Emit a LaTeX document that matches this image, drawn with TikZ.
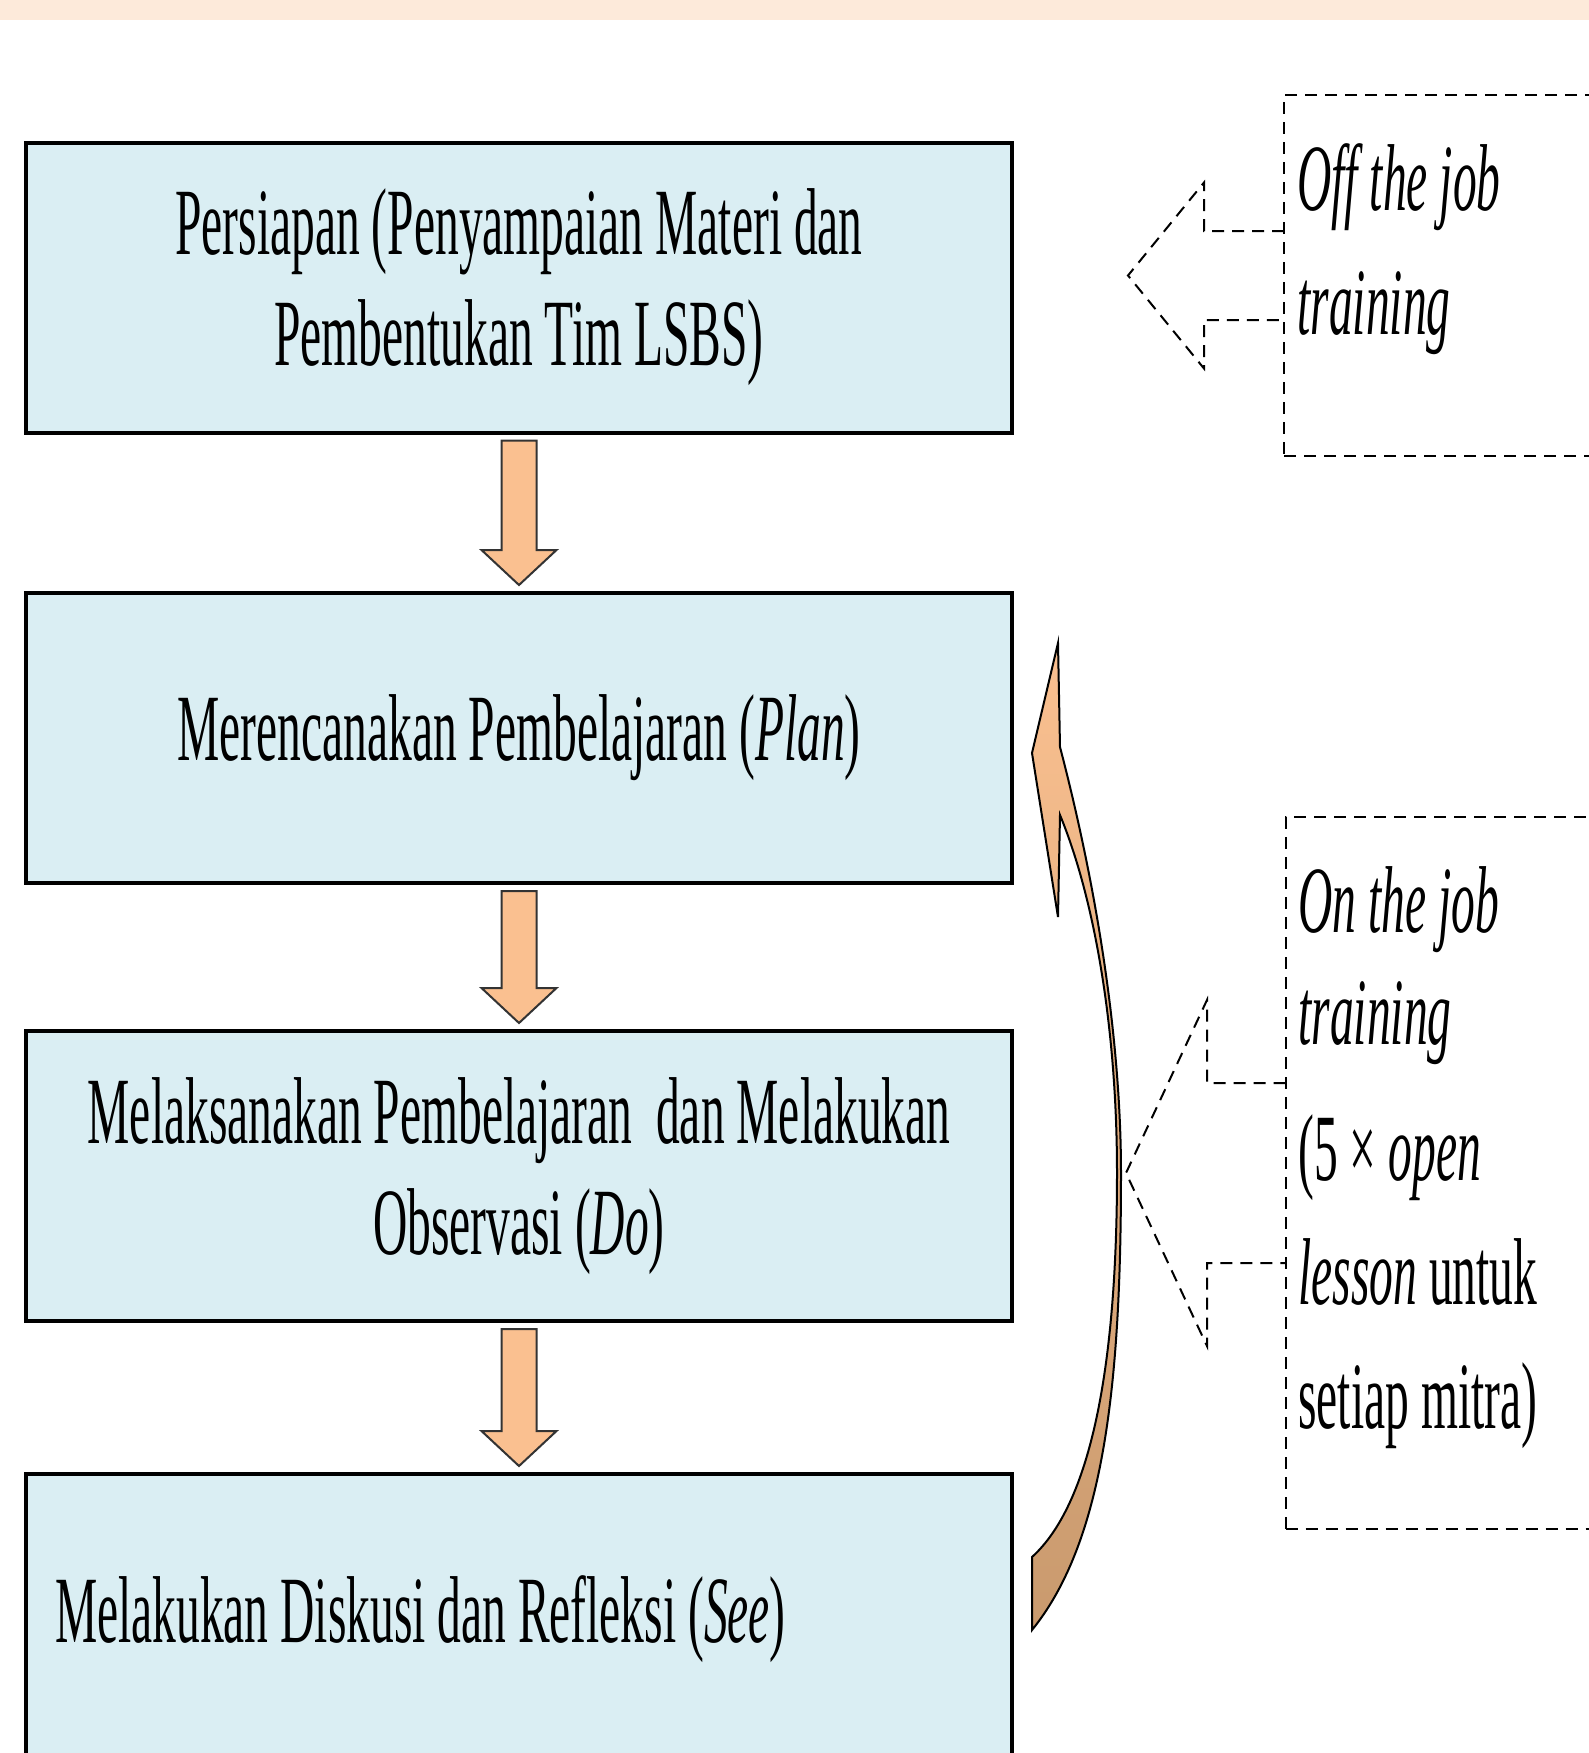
\documentclass[tikz,border=0pt]{standalone}
\usepackage{fontspec}
\setmainfont{Liberation Serif}[FakeStretch=0.5]
\usetikzlibrary{calc,positioning}

\definecolor{boxblue}{HTML}{DAEEF3}
\definecolor{arrowpeach}{HTML}{FAC090}
\definecolor{arrowtan}{HTML}{C99A6E}
\definecolor{bandpeach}{HTML}{FDEADA}

% block arrow from one stage down to the next
\newcommand\blockdown[2]{%
  \draw[blockarrow] ($(#1.south)+(-17.5,8)$) -- ($(#1.south)+(17.5,8)$)
    -- ($(#2.north)+(17.5,-43)$) -- ($(#2.north)+(37.5,-43)$)
    -- ($(#2.north)+(0,-8)$) -- ($(#2.north)+(-37.5,-43)$)
    -- ($(#2.north)+(-17.5,-43)$) -- cycle;}
% dashed hollow arrow leaving a note box to the left
\newcommand\hollowleft[5]{%
  \draw[hollow] ($(#1.west)+(0,-#2)$) -- ($(#1.west)+(-#4,-#2)$)
    -- ($(#1.west)+(-#4,-#3)$) -- ($(#1.west)+(-#5,0)$)
    -- ($(#1.west)+(-#4,#3)$) -- ($(#1.west)+(-#4,#2)$)
    -- ($(#1.west)+(0,#2)$);}

\begin{document}
\begin{tikzpicture}[x=0.5pt, y=-0.5pt,
    stage/.style={rectangle, draw, line width=2pt, fill=boxblue, minimum width=493pt, minimum height=145pt, outer sep=0pt, align=center, font=\fontsize{47.5pt}{55.5pt}\selectfont},
    blockarrow/.style={draw=black!80, line width=1pt, fill=arrowpeach},
    dashbox/.style={rectangle, draw, line width=1pt, dash pattern=on 6pt off 4pt, inner sep=0pt, outer sep=0pt},
    hollow/.style={draw, line width=1pt, dash pattern=on 6pt off 4pt},
    note/.style={anchor=north west, inner sep=0pt, align=left, font=\fontsize{47.5pt}{62pt}\selectfont}]

    % Frame
    \path[use as bounding box, clip] (0,0) rectangle (1589,1753);
    \fill[bandpeach] (0,0) rectangle (1589,20);

    % Stages
    \node[stage] (prep) at (519,287.5) {Persiapan (Penyampaian Materi dan\\Pembentukan Tim LSBS)};
    \node[stage, below=80.25pt of prep] (plan) {Merencanakan Pembelajaran (\textit{Plan})};
    \node[stage, below=74pt of plan] (do) {Melaksanakan Pembelajaran~ dan Melakukan\\Observasi (\textit{Do})};
    \node[stage, below=76.5pt of do, align=flush left, text width=464pt, inner xsep=14.5pt] (see) {Melakukan Diskusi dan Refleksi (\textit{See})};

    % Arrows
    \blockdown{prep}{plan}
    \blockdown{plan}{do}
    \blockdown{do}{see}

    % Cycle arrow
    \def\cyclepath{(1058,643) -- (1060,747) .. controls (1100,900) and (1121,1050) .. (1121,1173)
        .. controls (1121,1380) and (1105,1540) .. (1032,1630) -- (1032,1557)
        .. controls (1095,1500) and (1117,1350) .. (1117,1173)
        .. controls (1117,1030) and (1095,900) .. (1060,815) -- (1058,917) -- (1032,753) -- cycle}
    \shade[top color=arrowpeach, middle color=arrowpeach!60!arrowtan, bottom color=arrowtan] \cyclepath;
    \draw[line width=1pt] \cyclepath;

    % Training notes
    \node[dashbox, minimum width=183pt, minimum height=180.5pt] (offjob) at (1467,275.5) {};
    \node[dashbox, minimum width=182pt, minimum height=356pt] (onjob) at (1467.5,1173) {};
    \node[note] (offtext) at ($(offjob.north west)+(13,48)$) {\textit{Off the job}\\\textit{training}};
    \node[note] (ontext) at ($(onjob.north west)+(12.5,49)$) {\textit{On the job}\\[-6pt]\textit{training}\\[6pt](5 × \textit{open}\\\textit{lesson} untuk\\setiap mitra)};

    \hollowleft{offjob}{44.5}{93}{80}{156}
    \hollowleft{onjob}{90}{173}{78.5}{159.5}

\end{tikzpicture}
\end{document}
